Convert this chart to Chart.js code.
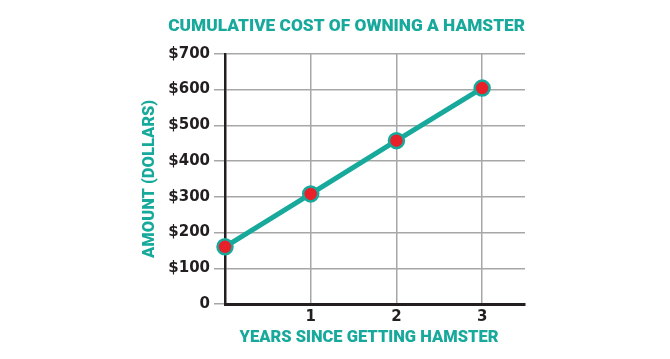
<!DOCTYPE html>
<html>
<head>
<meta charset="utf-8">
<script src="https://cdn.jsdelivr.net/npm/chart.js@4"></script>
<style>
  html, body { margin: 0; padding: 0; background: #fff; }
  #wrap { width: 670px; height: 359px; }
</style>
</head>
<body>
<div id="wrap"><canvas id="chart" width="670" height="359"></canvas></div>
<script>
// values
const years = [0, 1, 2, 3];
const costs = [160, 308, 457, 604];
const yTicks = [0, 100, 200, 300, 400, 500, 600, 700];

const TITLE = 'CUMULATIVE COST OF OWNING A HAMSTER';
const X_TITLE = 'YEARS SINCE GETTING HAMSTER';
const Y_TITLE = 'AMOUNT (DOLLARS)';

const TEAL = '#17a99b';
const INK = '#231f20';
const GRID = '#a7a7a7';

const titleFont = { family: 'Roboto', weight: '900', size: 17.3, lineHeight: 1.2 };
const axisTitleFont = { family: 'Roboto', weight: '900', size: 16.5, lineHeight: 1.2 };
const tickFont = { family: 'DejaVu Sans', weight: 'bold', size: 15 };

// x title sits a little left of the plot centre in the original,
// so it is drawn by hand inside the space the x scale keeps free
const xTitlePlugin = {
  id: 'xTitle',
  afterDraw(c) {
    const s = c.scales.x;
    const font = Chart.helpers.toFont(axisTitleFont);
    const g = c.ctx;
    g.save();
    g.font = font.string;
    g.fillStyle = TEAL;
    g.textAlign = 'center';
    g.textBaseline = 'middle';
    g.fillText(X_TITLE, (c.chartArea.left + c.chartArea.right) / 2 - 6, s.bottom - 11 - font.lineHeight / 2);
    g.restore();
  }
};

const ctx = document.getElementById('chart').getContext('2d');
const chart = new Chart(ctx, {
  type: 'line',
  data: {
    datasets: [{
      data: years.map((y, i) => ({ x: y, y: costs[i] })),
      borderColor: TEAL,
      borderWidth: 5,
      pointBackgroundColor: '#e8202a',
      pointBorderColor: TEAL,
      pointBorderWidth: 2.5,
      pointRadius: 7.5,
      pointHoverRadius: 7.5,
      tension: 0,
      clip: false
    }]
  },
  options: {
    responsive: false,
    animation: false,
    layout: { padding: { left: 140, right: 145, top: 0, bottom: 0 } },
    plugins: {
      legend: { display: false },
      tooltip: { enabled: false },
      title: {
        display: true,
        text: TITLE,
        color: TEAL,
        align: 'end',
        font: titleFont,
        padding: { top: 16, bottom: 17 }
      }
    },
    scales: {
      x: {
        type: 'linear',
        min: 0,
        max: 3.5,
        afterFit: s => { s.height = 55; },
        ticks: {
          stepSize: 1,
          includeBounds: false,
          color: INK,
          font: tickFont,
          padding: 4,
          callback: v => (v === 0 ? '' : v)
        },
        grid: { color: GRID, lineWidth: 1.5, drawTicks: false },
        border: { color: INK, width: 3 }
      },
      y: {
        min: 0,
        max: 700,
        afterFit: s => { s.width = 85; },
        afterBuildTicks: s => { s.ticks = yTicks.map(v => ({ value: v })); },
        ticks: {
          color: INK,
          font: tickFont,
          padding: 4,
          callback: v => (v === 0 ? '0' : '$' + v)
        },
        grid: { color: GRID, lineWidth: 1.5, tickLength: 11 },
        border: { color: INK, width: 2.5 },
        title: {
          display: true,
          text: Y_TITLE,
          color: TEAL,
          font: axisTitleFont,
          padding: { top: 0, bottom: 0 }
        }
      }
    }
  },
  plugins: [xTitlePlugin]
});
</script>
</body>
</html>
